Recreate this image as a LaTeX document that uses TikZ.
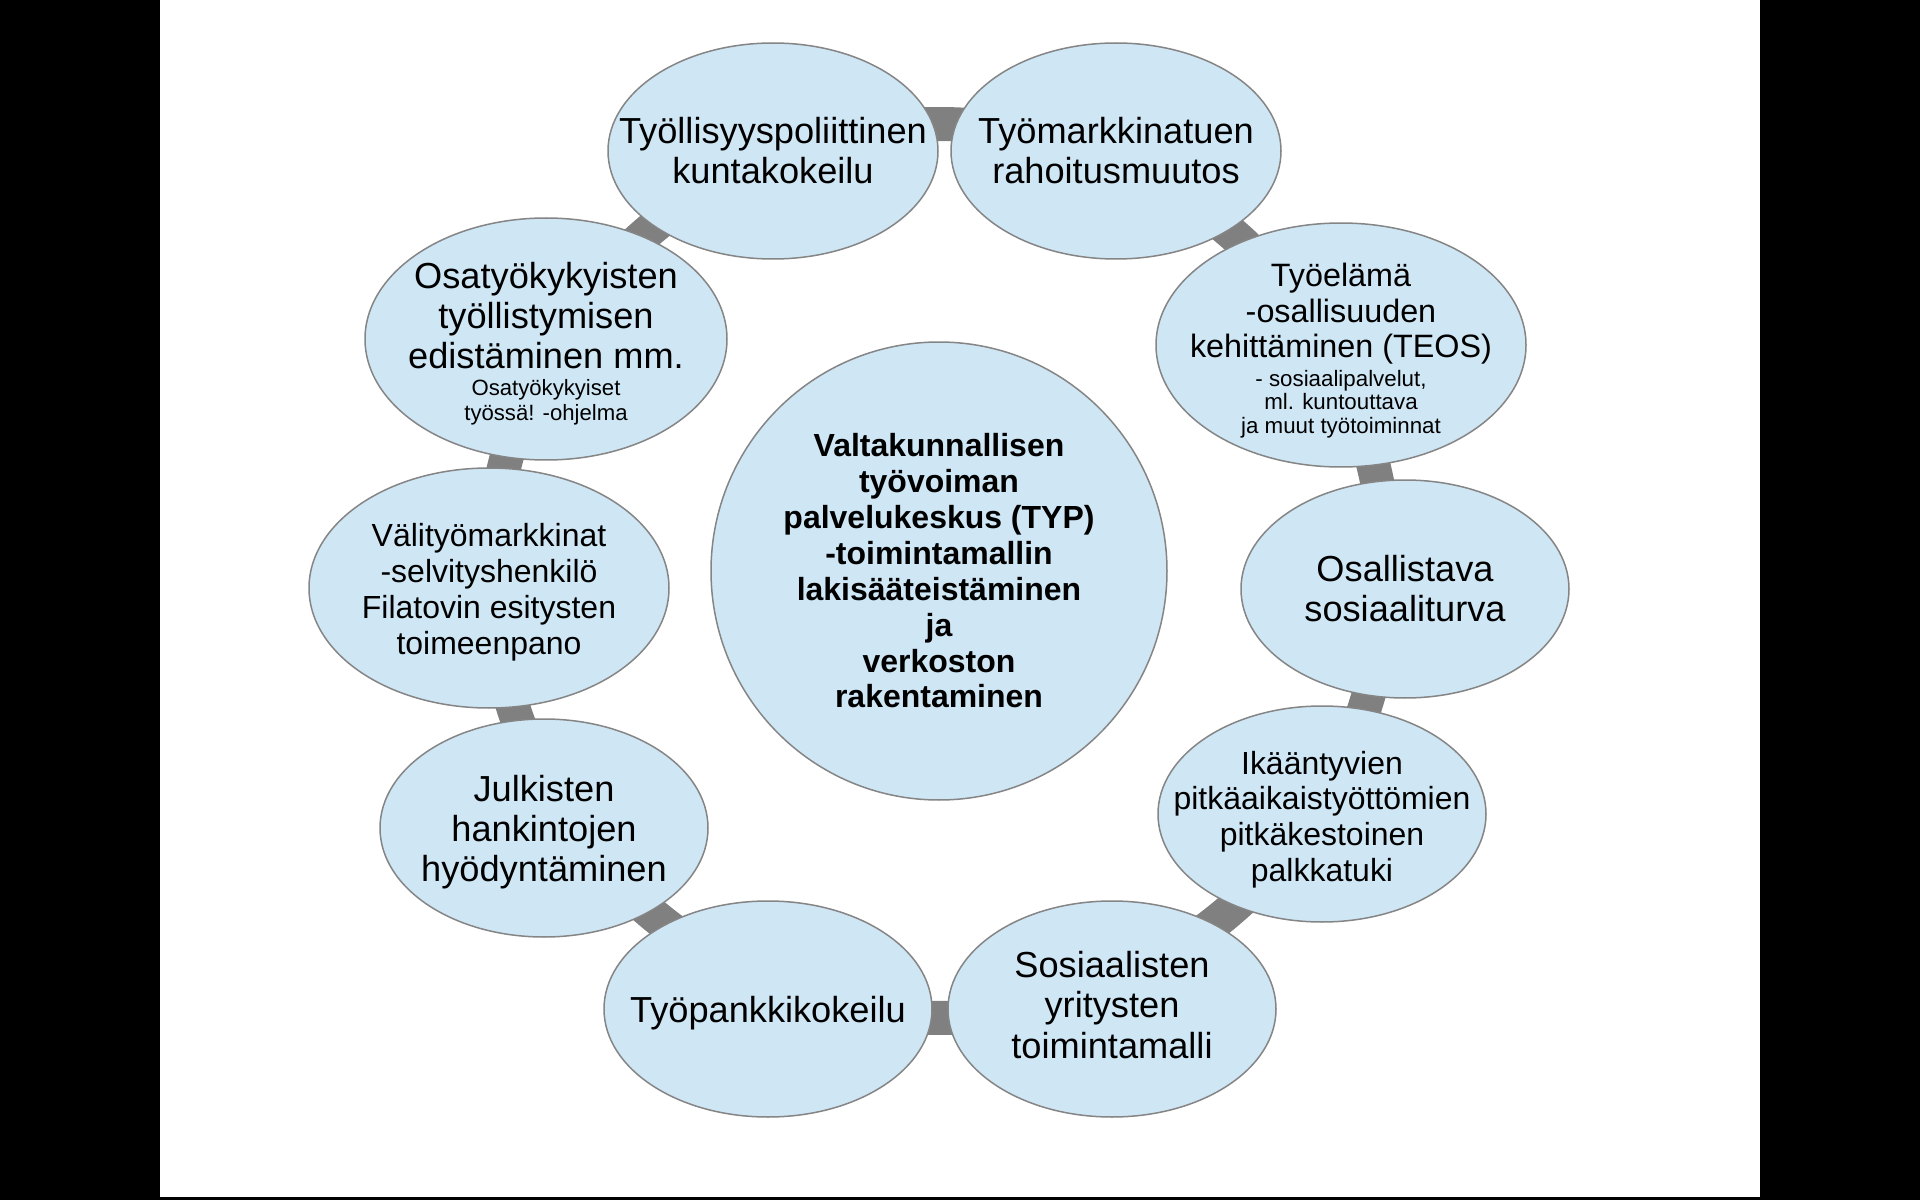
\documentclass[tikz,border=0pt]{standalone}
\usepackage{fontspec}
\setmainfont{Liberation Sans}
\usetikzlibrary{shapes.geometric}
\definecolor{bubblefill}{HTML}{CFE6F4}
\definecolor{bubbleline}{HTML}{858585}
\definecolor{ringgray}{HTML}{808080}
\begin{document}
\begin{tikzpicture}[x=0.1mm,y=-0.1mm,
  bubble/.style={draw=bubbleline,line width=0.15mm,fill=bubblefill,ellipse,inner sep=0pt,minimum width=32.8mm,minimum height=21.6mm},
  big/.style={align=center,inner sep=0pt,font=\fontsize{10.3}{11.4}\selectfont},
  mid/.style={align=center,inner sep=0pt,font=\fontsize{9.1}{10.2}\selectfont},
  ring/.style={draw=ringgray,line width=3.4mm}]
\useasboundingbox (0,0) rectangle (1920,1200);
\fill [white] (0,0) rectangle (1920,1200);
\fill [black] (0,0) rectangle (160,1200);
\fill [black] (1760,0) rectangle (1920,1200);
\fill [black] (160,1197) rectangle (1760,1200);
\coordinate (ringc) at (939,571);
\draw [ring] (ringc) circle (44.7mm);
\node [bubble,minimum width=45.6mm,minimum height=45.8mm] (hub) at (ringc) {};
\node [mid,font=\fontsize{9.1}{10.2}\selectfont\bfseries] (hub-t) at (hub) {Valtakunnallisen\\työvoiman\\palvelukeskus (TYP)\\-toimintamallin\\lakisääteistäminen\\ja\\verkoston\\rakentaminen};
\node [bubble,minimum width=33mm] (kunta) at (773,151) {};
\node [big] (kunta-t) at (kunta) {Työllisyyspoliittinen\\kuntakokeilu};
\node [bubble,minimum width=33mm] (rahoitus) at (1116,151) {};
\node [big] (rahoitus-t) at (rahoitus) {Työmarkkinatuen\\rahoitusmuutos};
\node [bubble,minimum width=37mm,minimum height=24.4mm] (teos) at (1341,345) {};
\node [big,font=\fontsize{9.2}{10.1}\selectfont,yshift=-0.6mm] (teos-t) at (teos) {Työelämä\\-osallisuuden\\kehittäminen (TEOS)\\[-2.1pt]{\fontsize{6.35}{7.3}\selectfont - sosiaalipalvelut,}\\[-3.3pt]{\fontsize{6.35}{7.3}\selectfont ml. kuntouttava}\\[-3.3pt]{\fontsize{6.35}{7.3}\selectfont ja muut työtoiminnat}};
\node [bubble,minimum height=21.8mm] (osallistava) at (1405,589) {};
\node [big] (osallistava-t) at (osallistava) {Osallistava\\sosiaaliturva};
\node [bubble] (ikaantyvat) at (1322,814) {};
\node [mid,yshift=-0.55mm] (ikaantyvat-t) at (ikaantyvat) {Ikääntyvien\\pitkäaikaistyöttömien\\pitkäkestoinen\\palkkatuki};
\node [bubble] (sosyritys) at (1112,1009) {};
\node [big,yshift=0.4mm] (sosyritys-t) at (sosyritys) {Sosiaalisten\\yritysten\\toimintamalli};
\node [bubble] (tyopankki) at (768,1009) {};
\node [big,yshift=-0.4mm] (tyopankki-t) at (tyopankki) {Työpankkikokeilu};
\node [bubble,minimum height=21.8mm] (hankinnat) at (544,828) {};
\node [big,yshift=-0.4mm] (hankinnat-t) at (hankinnat) {Julkisten\\hankintojen\\hyödyntäminen};
\node [bubble,minimum width=36mm,minimum height=24mm] (valityo) at (489,588) {};
\node [mid,yshift=-0.4mm] (valityo-t) at (valityo) {Välityömarkkinat\\-selvityshenkilö\\Filatovin esitysten\\toimeenpano};
\node [bubble,minimum width=36.2mm,minimum height=24.2mm] (osatyo) at (546,339) {};
\node [big,yshift=-0.45mm] (osatyo-t) at (osatyo) {Osatyökykyisten\\työllistymisen\\edistäminen mm.\\[-3.7pt]{\fontsize{6.3}{7}\selectfont Osatyökykyiset}\\[-4.4pt]{\fontsize{6.3}{7}\selectfont työssä! -ohjelma}};
\end{tikzpicture}
\end{document}
